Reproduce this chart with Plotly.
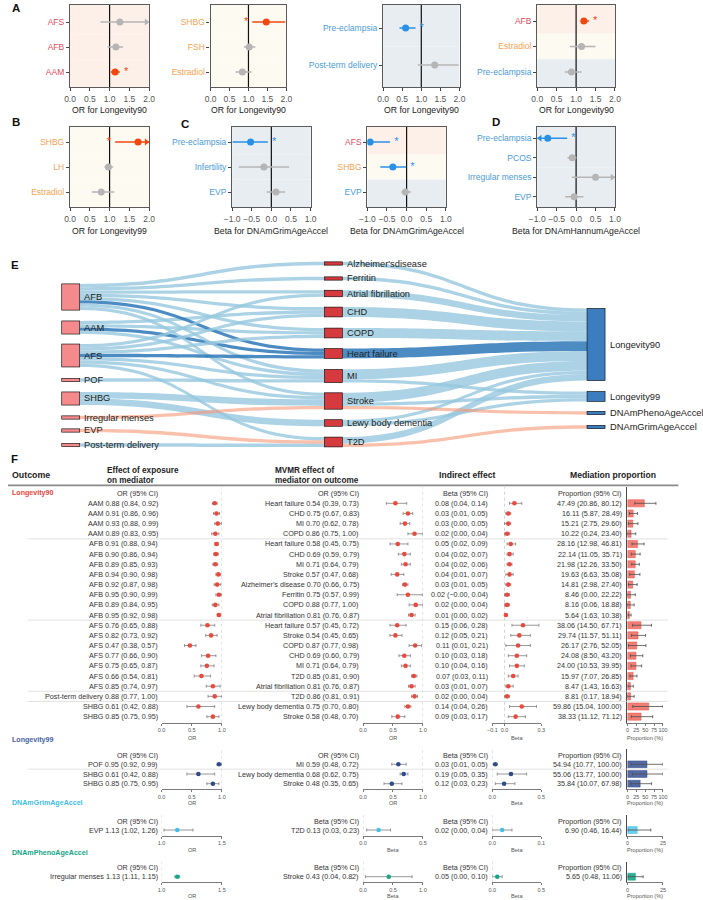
import plotly.graph_objects as go

W, H = 703, 900
FONT = "Liberation Sans"

# ================= Panels A-D : forest plots =================
TIMING = ["AFS", "AFB", "AAM", "POF"]
HORMONE = ["SHBG", "FSH", "Estradiol", "LH"]

A1_labels = ["AFS", "AFB", "AAM"]
A1_est = [1.26, 1.16, 1.14]
A1_lo = [0.77, 0.95, 1.03]
A1_hi = [2.40, 1.34, 1.26]

A2_labels = ["SHBG", "FSH", "Estradiol"]
A2_est = [1.47, 1.02, 0.84]
A2_lo = [1.10, 0.88, 0.66]
A2_hi = [1.97, 1.18, 1.08]

A3_labels = ["Pre-eclampsia", "Post-term delivery"]
A3_est = [0.59, 1.35]
A3_lo = [0.43, 0.91]
A3_hi = [0.85, 1.98]

A4_labels = ["AFB", "Estradiol", "Pre-eclampsia"]
A4_est = [1.20, 1.14, 0.88]
A4_lo = [1.12, 0.84, 0.71]
A4_hi = [1.33, 1.50, 1.14]

B_labels = ["SHBG", "LH", "Estradiol"]
B_est = [1.72, 0.97, 0.79]
B_lo = [1.14, 0.87, 0.55]
B_hi = [2.30, 1.09, 1.12]

C1_labels = ["Pre-eclampsia", "Infertility", "EVP"]
C1_est = [-0.53, -0.19, 0.12]
C1_lo = [-0.99, -0.83, -0.12]
C1_hi = [-0.09, 0.45, 0.35]

C2_labels = ["AFS", "SHBG", "EVP"]
C2_est = [-0.93, -0.35, -0.03]
C2_lo = [-1.25, -0.67, -0.14]
C2_hi = [-0.42, -0.01, 0.11]

D_labels = ["Pre-eclampsia", "PCOS", "Irregular menses", "EVP"]
D_est = [-0.73, -0.10, 0.50, -0.05]
D_lo = [-1.30, -0.22, -0.11, -0.28]
D_hi = [-0.23, 0.01, 1.35, 0.19]

OR_TICKS = [0, 0.5, 1, 1.5, 2]
BETA_TICKS = [-1, -0.5, 0, 0.5, 1]

# ================= Panel F : mediation table =================
L90_exposure = ["AAM", "AAM", "AAM", "AAM", "AFB", "AFB", "AFB", "AFB", "AFB", "AFB", "AFB", "AFB",
                "AFS", "AFS", "AFS", "AFS", "AFS", "AFS", "AFS", "Post-term delivery", "SHBG", "SHBG"]
L90_exp_est = [0.88, 0.91, 0.93, 0.89, 0.91, 0.90, 0.89, 0.94, 0.92, 0.95, 0.89, 0.95,
               0.76, 0.82, 0.47, 0.77, 0.75, 0.66, 0.85, 0.88, 0.61, 0.85]
L90_exp_lo = [0.84, 0.86, 0.88, 0.83, 0.88, 0.86, 0.85, 0.90, 0.87, 0.90, 0.84, 0.92,
              0.65, 0.73, 0.38, 0.66, 0.65, 0.54, 0.74, 0.77, 0.42, 0.75]
L90_exp_hi = [0.92, 0.96, 0.99, 0.95, 0.94, 0.94, 0.93, 0.98, 0.98, 0.99, 0.95, 0.98,
              0.88, 0.92, 0.57, 0.90, 0.87, 0.81, 0.97, 1.00, 0.88, 0.95]
L90_mediator = ["Heart failure", "CHD", "MI", "COPD",
                "Heart failure", "CHD", "MI", "Stroke", "Alzheimer's disease", "Ferritin", "COPD", "Atrial fibrillation",
                "Heart failure", "Stroke", "COPD", "CHD", "MI", "T2D", "Atrial fibrillation",
                "T2D", "Lewy body dementia", "Stroke"]
L90_med_est = [0.54, 0.75, 0.70, 0.86, 0.58, 0.69, 0.71, 0.57, 0.70, 0.75, 0.88, 0.81,
               0.57, 0.54, 0.87, 0.69, 0.71, 0.85, 0.81, 0.86, 0.75, 0.58]
L90_med_lo = [0.39, 0.67, 0.62, 0.75, 0.45, 0.59, 0.64, 0.47, 0.66, 0.57, 0.77, 0.76,
              0.45, 0.45, 0.77, 0.60, 0.64, 0.81, 0.76, 0.81, 0.70, 0.48]
L90_med_hi = [0.73, 0.83, 0.78, 1.00, 0.75, 0.79, 0.79, 0.68, 0.75, 0.99, 1.00, 0.87,
              0.72, 0.65, 0.98, 0.79, 0.79, 0.90, 0.87, 0.91, 0.80, 0.70]
L90_ind_est = [0.08, 0.03, 0.03, 0.02, 0.05, 0.04, 0.04, 0.04, 0.03, 0.02, 0.02, 0.01,
               0.15, 0.12, 0.11, 0.10, 0.10, 0.07, 0.03, 0.02, 0.14, 0.09]
L90_ind_lo = [0.04, 0.01, 0.00, 0.00, 0.02, 0.02, 0.02, 0.01, 0.01, -0.001, 0.00, 0.00,
              0.06, 0.05, 0.01, 0.03, 0.04, 0.03, 0.01, 0.00, 0.04, 0.03]
L90_ind_hi = [0.14, 0.05, 0.05, 0.04, 0.09, 0.07, 0.06, 0.07, 0.05, 0.04, 0.04, 0.02,
              0.28, 0.21, 0.21, 0.18, 0.16, 0.11, 0.07, 0.04, 0.26, 0.17]
L90_prop_est = [47.49, 16.11, 15.21, 10.22, 28.16, 22.14, 21.98, 19.63, 14.81, 8.46, 8.16, 5.64,
                38.06, 29.74, 26.17, 24.08, 24.00, 15.97, 8.47, 8.81, 59.86, 38.33]
L90_prop_lo = [20.86, 5.87, 2.75, 0.24, 12.98, 11.05, 12.26, 6.63, 2.98, 0.00, 0.06, 1.63,
               14.50, 11.57, 2.76, 8.50, 10.53, 7.07, 1.43, 0.17, 15.04, 11.12]
L90_prop_hi = [80.12, 28.49, 29.60, 23.40, 46.81, 35.71, 33.50, 35.08, 27.40, 22.22, 18.88, 10.38,
               67.71, 51.11, 52.05, 43.20, 39.95, 26.85, 16.63, 18.94, 100.00, 71.12]

L99_exposure = ["POF", "SHBG", "SHBG"]
L99_exp_est = [0.95, 0.61, 0.85]
L99_exp_lo = [0.92, 0.42, 0.75]
L99_exp_hi = [0.99, 0.88, 0.95]
L99_mediator = ["MI", "Lewy body dementia", "Stroke"]
L99_med_est = [0.59, 0.68, 0.48]
L99_med_lo = [0.48, 0.62, 0.35]
L99_med_hi = [0.72, 0.75, 0.65]
L99_ind_est = [0.03, 0.19, 0.12]
L99_ind_lo = [0.01, 0.05, 0.03]
L99_ind_hi = [0.05, 0.35, 0.23]
L99_prop_est = [54.94, 55.06, 35.84]
L99_prop_lo = [10.77, 13.77, 10.07]
L99_prop_hi = [100.00, 100.00, 67.98]

GRIM_exposure = ["EVP"]
GRIM_exp_est = [1.13]
GRIM_exp_lo = [1.02]
GRIM_exp_hi = [1.26]
GRIM_mediator = ["T2D"]
GRIM_med_est = [0.13]
GRIM_med_lo = [0.03]
GRIM_med_hi = [0.23]
GRIM_ind_est = [0.02]
GRIM_ind_lo = [0.00]
GRIM_ind_hi = [0.04]
GRIM_prop_est = [6.90]
GRIM_prop_lo = [0.46]
GRIM_prop_hi = [16.44]

PHENO_exposure = ["Irregular menses"]
PHENO_exp_est = [1.13]
PHENO_exp_lo = [1.11]
PHENO_exp_hi = [1.15]
PHENO_mediator = ["Stroke"]
PHENO_med_est = [0.43]
PHENO_med_lo = [0.04]
PHENO_med_hi = [0.82]
PHENO_ind_est = [0.05]
PHENO_ind_lo = [0.00]
PHENO_ind_hi = [0.10]
PHENO_prop_est = [5.65]
PHENO_prop_lo = [0.48]
PHENO_prop_hi = [11.06]

# ================= Panel E : sankey nodes =================
SANKEY_EXPOSURES = ["AFB", "AAM", "AFS", "POF", "SHBG", "Irregular menses", "EVP", "Post-term delivery"]
SANKEY_MEDIATORS = ["Alzheimer's disease", "Ferritin", "Atrial fibrillation", "CHD", "COPD",
                    "Heart failure", "MI", "Stroke", "Lewy body dementia", "T2D"]
SANKEY_OUTCOMES = ["Longevity90", "Longevity99", "DNAmPhenoAgeAccel", "DNAmGrimAgeAccel"]
SANKEY_DISPLAY = {"Alzheimer's disease": "Alzheimer'sdisease"}

# ---------------- layout (positions in px) ----------------
NODE_CY_PX = [297, 327.5, 355.5, 380, 398.5, 417.5, 430.5, 445,
              263.5, 278.5, 293.5, 312, 333, 353.5, 376, 401, 423, 442,
              344.5, 396.5, 413, 427]
SK_X0, SK_X1, SK_Y0, SK_Y1 = 55, 609, 258, 450
SK_COL_CX = [64, 332, 600]
SK_LABEL_X = [77, 345, 613]

fig = go.Figure()
layout_axes = {}
shapes = []
annotations = []
counter = [0]


def new_axes(x0, x1, y0, y1, xcfg, ycfg):
    counter[0] += 1
    k = counter[0]
    s = "" if k == 1 else str(k)
    layout_axes["xaxis" + s] = dict(domain=[x0 / W, x1 / W], anchor="y" + s, fixedrange=True,
                                    showgrid=False, zeroline=False, tickangle=0, **xcfg)
    layout_axes["yaxis" + s] = dict(domain=[1 - y1 / H, 1 - y0 / H], anchor="x" + s, fixedrange=True,
                                    showgrid=False, zeroline=False, **ycfg)
    return "x" + s, "y" + s


def ann(x, y, text, size=8, color="#222", xanchor="left", bold=False, xref="paper", yref="paper"):
    if xref == "paper":
        x = x / W
    if yref == "paper":
        y = 1 - y / H
    if bold:
        text = "<b>" + text + "</b>"
    annotations.append(dict(x=x, y=y, xref=xref, yref=yref, text=text, showarrow=False,
                            xanchor=xanchor, yanchor="middle", borderpad=0,
                            font=dict(size=size, color=color, family=FONT)))


CAT_STYLE = {"timing": ("#e4495d", "#fdf0e9"),
             "hormone": ("#f5a252", "#fdfaf1"),
             "disease": ("#4b9bd7", "#e8edf2")}
SIG_UP, SIG_DOWN, NS = "#f2470f", "#2a90e6", "#b5b5b5"


def category(name):
    if name in TIMING:
        return "timing"
    if name in HORMONE:
        return "hormone"
    return "disease"


def tick_text(vals):
    return [f"{v:.1f}".replace("-", "\u2212") for v in vals]


def top_panel(box, row0, step, xr, labels, est, lo, hi, null, tickvals, xtitle, title_y):
    x0, x1, y0, y1 = box
    n = len(labels)
    ytop = (y0 - row0) / step
    ybot = (y1 - row0) / step
    ticktxt = [f'<span style="color:{CAT_STYLE[category(l)][0]}">{l}</span>' for l in labels]
    xa, ya = new_axes(
        x0, x1, y0, y1,
        xcfg=dict(range=xr, showline=True, mirror=True, linecolor="#5a5a5a", linewidth=1.2,
                  ticks="outside", ticklen=3, tickwidth=1, tickcolor="#444",
                  tickvals=tickvals, ticktext=tick_text(tickvals),
                  tickfont=dict(size=8.5, color="#555", family=FONT)),
        ycfg=dict(range=[ybot, ytop], showline=True, mirror=True, linecolor="#5a5a5a", linewidth=1.2,
                  ticks="outside", ticklen=3, tickwidth=1, tickcolor="#444",
                  tickvals=list(range(n)), ticktext=ticktxt,
                  tickfont=dict(size=8.5, family=FONT)))
    for i, lab in enumerate(labels):
        shapes.append(dict(type="rect", xref=xa + " domain", x0=0, x1=1, yref=ya,
                           y0=ytop if i == 0 else i - 0.5, y1=ybot if i == n - 1 else i + 0.5,
                           fillcolor=CAT_STYLE[category(lab)][1], line=dict(width=0), layer="below"))
    shapes.append(dict(type="line", xref=xa, yref=ya + " domain", x0=null, x1=null, y0=0, y1=1,
                       line=dict(color="#111", width=1.2), layer="below"))
    span = xr[1] - xr[0]
    for i in range(n):
        e, l, h = est[i], lo[i], hi[i]
        sig = l > null or h < null
        col = (SIG_UP if e > null else SIG_DOWN) if sig else NS
        lc, hc = max(l, xr[0]), min(h, xr[1])
        fig.add_trace(go.Scatter(x=[lc, hc], y=[i, i], mode="lines", line=dict(color=col, width=1.6),
                                 xaxis=xa, yaxis=ya, showlegend=False, hoverinfo="skip"))
        fig.add_trace(go.Scatter(x=[e], y=[i], mode="markers", marker=dict(color=col, size=7),
                                 xaxis=xa, yaxis=ya, showlegend=False))
        if l < xr[0]:
            fig.add_trace(go.Scatter(x=[xr[0] + 0.035 * span], y=[i], mode="markers",
                                     marker=dict(symbol="triangle-left", color=col, size=6),
                                     xaxis=xa, yaxis=ya, showlegend=False, hoverinfo="skip"))
        if h > xr[1]:
            fig.add_trace(go.Scatter(x=[xr[1] - 0.035 * span], y=[i], mode="markers",
                                     marker=dict(symbol="triangle-right", color=col, size=6),
                                     xaxis=xa, yaxis=ya, showlegend=False, hoverinfo="skip"))
        if sig:
            off = 0.08 * span
            sx = h + off if h + off < xr[1] - 0.02 * span else l - off
            fig.add_trace(go.Scatter(x=[sx], y=[i], mode="text", text=["*"],
                                     textfont=dict(size=11, color=col, family=FONT),
                                     xaxis=xa, yaxis=ya, showlegend=False, hoverinfo="skip"))
    annotations.append(dict(x=0.5, xref=xa + " domain", y=1 - title_y / H, yref="paper", text=xtitle,
                            showarrow=False, xanchor="center", yanchor="middle",
                            font=dict(size=8.7, color="#222", family=FONT)))


top_panel((63.3, 144, 5, 87.3), 22, 25, [0, 2], A1_labels, A1_est, A1_lo, A1_hi, 1, OR_TICKS, "OR for Longevity90", 110)
top_panel((206.7, 284, 5, 87.3), 22, 25, [0, 2], A2_labels, A2_est, A2_lo, A2_hi, 1, OR_TICKS, "OR for Longevity90", 110)
top_panel((382.7, 460.7, 5, 87.3), 28, 37, [0, 2], A3_labels, A3_est, A3_lo, A3_hi, 1, OR_TICKS, "OR for Longevity90", 110)
top_panel((540, 619.3, 5, 87.3), 21, 25.5, [0, 2], A4_labels, A4_est, A4_lo, A4_hi, 1, OR_TICKS, "OR for Longevity90", 110)
top_panel((63.3, 144, 126.7, 207.3), 142, 25, [0, 2], B_labels, B_est, B_lo, B_hi, 1, OR_TICKS, "OR for Longevity99", 231)
top_panel((228.7, 308.7, 126.7, 207.3), 142, 25, [-1, 1], C1_labels, C1_est, C1_lo, C1_hi, 0, BETA_TICKS, "Beta for DNAmGrimAgeAccel", 231)
top_panel((366.7, 446.7, 126.7, 207.3), 142, 25, [-1, 1], C2_labels, C2_est, C2_lo, C2_hi, 0, BETA_TICKS, "Beta for DNAmGrimAgeAccel", 231)
top_panel((540, 619.3, 126.7, 207.3), 138.3, 19.5, [-1, 1], D_labels, D_est, D_lo, D_hi, 0, BETA_TICKS, "Beta for DNAmHannumAgeAccel", 231)

for letter, lx, ly in [("A", 3, 8), ("B", 3, 122), ("C", 175, 124), ("D", 493, 122), ("E", 2, 265), ("F", 2, 459)]:
    ann(lx, ly, letter, size=11.5, color="#111", bold=True)

# ================= Panel F =================
SECTIONS = [
    dict(name="Longevity90", label_color="#e8453c", color="#ea4a3e", bar="rgba(240,105,95,0.85)",
         exposure=L90_exposure, mediator=L90_mediator,
         cols=[(L90_exp_est, L90_exp_lo, L90_exp_hi), (L90_med_est, L90_med_lo, L90_med_hi),
               (L90_ind_est, L90_ind_lo, L90_ind_hi), (L90_prop_est, L90_prop_lo, L90_prop_hi)],
         heads=["OR (95% CI)", "OR (95% CI)", "Beta (95% CI)", "Proportion (95% CI)"],
         titles=["OR", "OR", "Beta", "Proportion (%)"],
         ranges=[[0, 1], [0, 1], [-0.1, 0.3], [0, 100]],
         ticks=[[0, 0.5, 1], [0, 0.5, 1], [-0.1, 0, 0.3], [0, 25, 50, 75, 100]],
         nulls=[1, 1, 0, None]),
    dict(name="Longevity99", label_color="#46629f", color="#2f4b8b", bar="rgba(65,90,155,0.9)",
         exposure=L99_exposure, mediator=L99_mediator,
         cols=[(L99_exp_est, L99_exp_lo, L99_exp_hi), (L99_med_est, L99_med_lo, L99_med_hi),
               (L99_ind_est, L99_ind_lo, L99_ind_hi), (L99_prop_est, L99_prop_lo, L99_prop_hi)],
         heads=["OR (95% CI)", "OR (95% CI)", "Beta (95% CI)", "Proportion (95% CI)"],
         titles=["OR", "OR", "Beta", "Proportion (%)"],
         ranges=[[0, 1], [0, 1], [0, 0.5], [0, 100]],
         ticks=[[0, 0.5, 1], [0, 0.5, 1], [0, 0.5], [0, 25, 50, 75, 100]],
         nulls=[1, 1, 0, None]),
    dict(name="DNAmGrimAgeAccel", label_color="#3fbde6", color="#45c0e8", bar="rgba(80,195,235,0.85)",
         exposure=GRIM_exposure, mediator=GRIM_mediator,
         cols=[(GRIM_exp_est, GRIM_exp_lo, GRIM_exp_hi), (GRIM_med_est, GRIM_med_lo, GRIM_med_hi),
               (GRIM_ind_est, GRIM_ind_lo, GRIM_ind_hi), (GRIM_prop_est, GRIM_prop_lo, GRIM_prop_hi)],
         heads=["OR (95% CI)", "Beta (95% CI)", "Beta (95% CI)", "Proportion (95% CI)"],
         titles=["OR", "Beta", "Beta", "Proportion (%)"],
         ranges=[[1, 1.5], [0, 0.5], [0, 0.1], [0, 25]],
         ticks=[[1, 1.5], [0, 0.5], [0, 0.1], [0, 25]],
         nulls=[1, 0, 0, None]),
    dict(name="DNAmPhenoAgeAccel", label_color="#14a586", color="#17a688", bar="rgba(25,165,135,0.9)",
         exposure=PHENO_exposure, mediator=PHENO_mediator,
         cols=[(PHENO_exp_est, PHENO_exp_lo, PHENO_exp_hi), (PHENO_med_est, PHENO_med_lo, PHENO_med_hi),
               (PHENO_ind_est, PHENO_ind_lo, PHENO_ind_hi), (PHENO_prop_est, PHENO_prop_lo, PHENO_prop_hi)],
         heads=["OR (95% CI)", "Beta (95% CI)", "Beta (95% CI)", "Proportion (95% CI)"],
         titles=["OR", "Beta", "Beta", "Proportion (%)"],
         ranges=[[1, 1.5], [0, 1], [0, 0.5], [0, 25]],
         ticks=[[1, 1.5], [0, 0.5, 1], [0, 0.5], [0, 25]],
         nulls=[1, 0, 0, None]),
]

SECTION_LAYOUT = [
    dict(label_y=493.3, header_y=493.3, row0=503.3, step=10.16, axis_y=722.7, title_dy=15.3),
    dict(label_y=740.0, header_y=755.0, row0=764.3, step=9.7, axis_y=789.3, title_dy=14.0),
    dict(label_y=803.3, header_y=821.0, row0=830.0, step=10.0, axis_y=835.7, title_dy=13.8),
    dict(label_y=852.7, header_y=867.7, row0=876.7, step=10.0, axis_y=882.3, title_dy=13.2),
]
COLS_X = [(156.7, 218.3), (362.3, 423.3), (494.2, 544.2), (632.0, 668.3)]
TEXT_RIGHT = [154.0, 359.0, 490.7, 627.3]
TXT = "#333"
TS = 7.2


def fmt(v):
    return f"{v:.2f}".replace("-", "\u2212")


def fticks(vals, c):
    if c == 3:
        return [f"{v:g}" for v in vals]
    return [f"{v:.1f}".replace("-", "\u2212") for v in vals]


# header
ann(2.7, 475, "Outcome", size=8.8, color="#222", bold=True)
ann(100, 470.6, "Effect of exposure", size=8.2, color="#222", bold=True)
ann(100, 480.8, "on mediator", size=8.2, color="#222", bold=True)
ann(271.7, 470.6, "MVMR effect of", size=8.2, color="#222", bold=True)
ann(271.7, 480.8, "mediator on outcome", size=8.2, color="#222", bold=True)
ann(468.3, 475, "Indirect effect", size=8.6, color="#222", xanchor="center", bold=True)
ann(617.7, 475, "Mediation proportion", size=8.6, color="#222", xanchor="center", bold=True)
shapes.append(dict(type="line", xref="paper", yref="paper", x0=0, x1=684 / W, y0=1 - 485.3 / H,
                   y1=1 - 485.3 / H, line=dict(color="#8a8a8a", width=1.8)))

for sec, lay in zip(SECTIONS, SECTION_LAYOUT):
    n = len(sec["exposure"])
    top = lay["header_y"] - 6
    bot = lay["axis_y"]
    yr = [(bot - lay["row0"]) / lay["step"], (top - lay["row0"]) / lay["step"]]
    ann(2.7, lay["label_y"], sec["name"], size=7.1, color=sec["label_color"], bold=True)
    first_ya = None
    for c in range(4):
        x0, x1 = COLS_X[c]
        est, lo, hi = sec["cols"][c]
        if c < 3:
            ycfg = dict(range=yr, visible=False)
        else:
            ycfg = dict(range=yr, showline=True, linecolor="#4a4a4a", linewidth=1.1,
                        showticklabels=False, ticks="")
        xa, ya = new_axes(
            x0, x1, top, bot,
            xcfg=dict(range=sec["ranges"][c], tickvals=sec["ticks"][c], ticktext=fticks(sec["ticks"][c], c),
                      showline=True, linecolor="#7a7a7a", linewidth=0.8, ticks="outside", ticklen=2,
                      tickwidth=0.6, tickcolor="#7a7a7a", tickfont=dict(size=5.5, color="#555", family=FONT)),
            ycfg=ycfg)
        if first_ya is None:
            first_ya = ya
        err = dict(type="data", symmetric=False, array=[h - e for e, h in zip(est, hi)],
                   arrayminus=[e - l for e, l in zip(est, lo)], thickness=0.8, width=1.5)
        if c < 3:
            err["color"] = "#7d7d7d"
            fig.add_trace(go.Scatter(x=est, y=list(range(n)), mode="markers", error_x=err,
                                     marker=dict(size=4.6, color=sec["color"]),
                                     xaxis=xa, yaxis=ya, showlegend=False))
            nl = sec["nulls"][c]
            shapes.append(dict(type="line", xref=xa, yref=ya + " domain", x0=nl, x1=nl, y0=0, y1=1,
                               line=dict(color="#c4c4c4", width=0.8, dash="dot"), layer="below"))
        else:
            err["color"] = "#4d4d4d"
            fig.add_trace(go.Bar(x=est, y=list(range(n)), orientation="h", width=0.7, base=0,
                                 marker=dict(color=sec["bar"], line=dict(color=sec["color"], width=0.5)),
                                 error_x=err, xaxis=xa, yaxis=ya, showlegend=False))
        # header and row texts
        ann(TEXT_RIGHT[c], lay["header_y"], sec["heads"][c], size=TS, color=TXT, xanchor="right")
        for i in range(n):
            t = f"{fmt(est[i])} ({fmt(lo[i])}, {fmt(hi[i])})"
            if c == 0:
                t = sec["exposure"][i] + " " + t
            elif c == 1:
                t = sec["mediator"][i] + " " + t
            ann(TEXT_RIGHT[c], i, t, size=TS, color=TXT, xanchor="right", yref=ya)
        annotations.append(dict(x=0.5, xref=xa + " domain", y=1 - (bot + lay["title_dy"]) / H, yref="paper",
                                text=sec["titles"][c], showarrow=False, xanchor="center", yanchor="middle",
                                font=dict(size=5.6, color="#555", family=FONT)))
    for i in range(n - 1):
        if sec["exposure"][i] != sec["exposure"][i + 1]:
            shapes.append(dict(type="line", xref="paper", yref=first_ya, x0=20 / W, x1=673 / W,
                               y0=i + 0.5, y1=i + 0.5, line=dict(color="#d6d6d6", width=0.7)))

# ================= Panel E : sankey =================
nodes = SANKEY_EXPOSURES + SANKEY_MEDIATORS + SANKEY_OUTCOMES
node_index = {nm: k for k, nm in enumerate(nodes)}
link_vals = {}
link_order = []
for sec in SECTIONS:
    o = sec["name"]
    for e, m in zip(sec["exposure"], sec["mediator"]):
        cls = "dna" if o.startswith("DNAm") else ("hf" if m == "Heart failure" else "base")
        for key in [(e, m, cls), (m, o, cls)]:
            if key not in link_vals:
                link_vals[key] = 0
                link_order.append(key)
            link_vals[key] += 1
LINK_COLORS = {"base": "rgba(150,200,222,0.8)", "hf": "rgba(45,120,185,0.85)", "dna": "rgba(245,150,115,0.6)"}

ncol = [0] * len(SANKEY_EXPOSURES) + [1] * len(SANKEY_MEDIATORS) + [2] * len(SANKEY_OUTCOMES)
sk_w = SK_X1 - SK_X0
sk_h = SK_Y1 - SK_Y0
node_x = [(SK_COL_CX[c] - SK_X0) / sk_w for c in ncol]
node_y = [(cy - SK_Y0) / sk_h for cy in NODE_CY_PX]
node_colors = ["#f58a8c"] * len(SANKEY_EXPOSURES) + ["#d43a3e"] * len(SANKEY_MEDIATORS) + ["#3c7dbf"] * len(SANKEY_OUTCOMES)
node_lines = ["#d0585c"] * len(SANKEY_EXPOSURES) + ["#a82226"] * len(SANKEY_MEDIATORS) + ["#23578f"] * len(SANKEY_OUTCOMES)

fig.add_trace(go.Sankey(
    domain=dict(x=[SK_X0 / W, SK_X1 / W], y=[1 - SK_Y1 / H, 1 - SK_Y0 / H]),
    arrangement="fixed",
    node=dict(label=[""] * len(nodes), customdata=nodes, hovertemplate="%{customdata}<extra></extra>",
              x=node_x, y=node_y, pad=11.5, thickness=18, color=node_colors,
              line=dict(color=node_lines, width=0.6)),
    link=dict(source=[node_index[k[0]] for k in link_order],
              target=[node_index[k[1]] for k in link_order],
              value=[link_vals[k] for k in link_order],
              color=[LINK_COLORS[k[2]] for k in link_order]),
))
for nm, c, cy in zip(nodes, ncol, NODE_CY_PX):
    ann(SK_LABEL_X[c], cy, SANKEY_DISPLAY.get(nm, nm), size=9.3, color="#222")

fig.update_layout(width=W, height=H, autosize=False, margin=dict(l=0, r=0, t=0, b=0),
                  paper_bgcolor="white", plot_bgcolor="white", font=dict(family=FONT),
                  showlegend=False, shapes=shapes, annotations=annotations, **layout_axes)
fig.write_html("out.html", config={"displayModeBar": False},
               post_script="document.body.style.margin='0px';document.body.style.padding='0px';"
                           "document.body.style.overflow='hidden';")
